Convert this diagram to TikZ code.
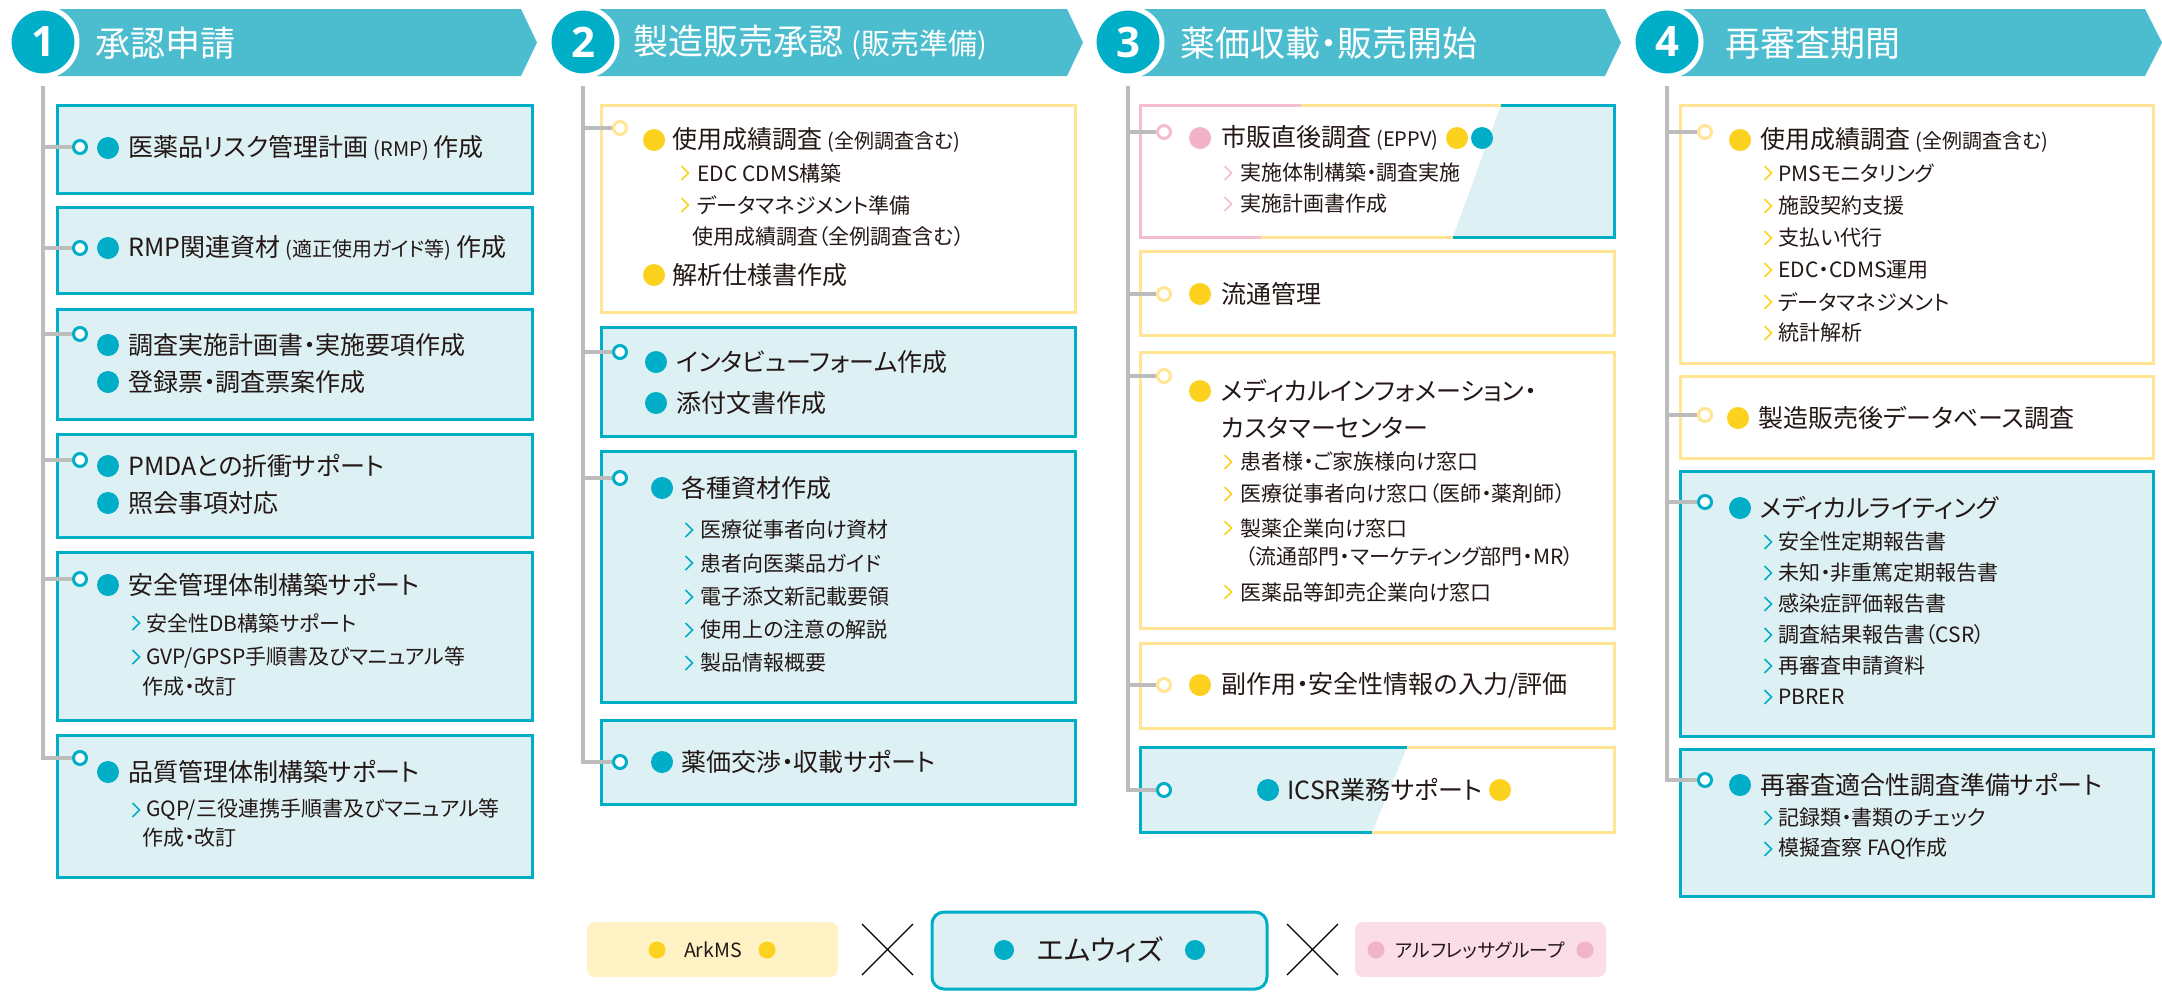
\documentclass[tikz,border=0pt]{standalone}
\usepackage{fontspec}
\setmainfont{Noto Sans CJK JP}[RawFeature=+palt]
\newfontfamily\numfont{Open Sans}
\usetikzlibrary{positioning}

\definecolor{tealdark}{HTML}{00AEC7}
\definecolor{bannerteal}{HTML}{4BBDCF}
\definecolor{tealfill}{HTML}{DDF0F4}
\definecolor{yelline}{HTML}{FFE594}
\definecolor{yeldot}{HTML}{FDD21E}
\definecolor{yelfill}{HTML}{FFF3C6}
\definecolor{pinkline}{HTML}{F5BDCF}
\definecolor{pinkdot}{HTML}{F2B3C7}
\definecolor{pinkfill}{HTML}{FADDE7}
\definecolor{trunkgray}{HTML}{BCBCBC}
\definecolor{inktext}{HTML}{231815}

\newcommand\smallpart[1]{{\fontsize{10}{12}\selectfont\hspace{2.5pt}#1\hspace{2.5pt}}}

\tikzset{
  banner/.style={fill=bannerteal},
  numcirc/.style={circle, fill=tealdark, draw=white, line width=2.5pt, minimum size=34pt, inner sep=0,
    text=white, font=\numfont\bfseries\fontsize{21}{21}\selectfont},
  headtext/.style={anchor=west, inner sep=0, text=white, font=\fontsize{17.5}{20}\selectfont},
  tealbox/.style={draw=tealdark, line width=1.5pt, fill=tealfill},
  yelbox/.style={draw=yelline, line width=1.5pt, fill=white},
  trunk/.style={draw=trunkgray, line width=2.2pt},
  hook/.style={circle, draw=#1, fill=white, line width=1.5pt, minimum size=6.5pt, inner sep=0},
  hook/.default=tealdark,
  dot/.style={circle, fill=#1, minimum size=11pt, inner sep=0},
  dot/.default=tealdark,
  ldot/.style={circle, fill=#1, minimum size=8.5pt, inner sep=0},
  item/.style={anchor=west, inner sep=0, text=inktext, font=\fontsize{12.5}{15}\selectfont},
  subitem/.style={anchor=west, inner sep=0, text=inktext, font=\fontsize{10.5}{13}\selectfont},
  legendtext/.style={inner sep=0, text=inktext, font=\fontsize{9.8}{12}\selectfont},
  pics/chev/.style={code={\draw[#1, line width=0.8pt] (-3.5,-7) -- (3.5,0) -- (-3.5,7);}},
}

\begin{document}
\begin{tikzpicture}[x=0.5pt, y=-0.5pt]
    \useasboundingbox (0,0) rectangle (2162,992);
    \fill[white] (0,0) rectangle (2162,992);

    % ---------- 1 承認申請
    \fill[banner] (43,9) -- (521,9) -- (537,42.5) -- (521,76) -- (43,76) -- cycle;
    \node[numcirc] (n1) at (43,42) {1};
    \node[headtext] (h1) at (95,43) {承認申請};

    \draw[tealbox] (57,105) rectangle (532,193);
    \draw[tealbox] (57,207) rectangle (532,293);
    \draw[tealbox] (57,309) rectangle (532,419);
    \draw[tealbox] (57,434) rectangle (532,537);
    \draw[tealbox] (57,552) rectangle (532,720);
    \draw[tealbox] (57,735) rectangle (532,877);

    \node[hook] (k11) at (80,147) {};
    \node[hook] (k12) at (80,248) {};
    \node[hook] (k13) at (80,334) {};
    \node[hook] (k14) at (80,460) {};
    \node[hook] (k15) at (80,579) {};
    \node[hook] (k16) at (80,758) {};
    \draw[trunk] ([yshift=-3.5pt]n1.south) |- (k16);
    \foreach \k in {k11,k12,k13,k14,k15}
        \draw[trunk] (\k -| n1) -- (\k);

    \node[dot] (d11) at (108,148) {};
    \node[item] (t11) at (128,148) {医薬品リスク管理計画\smallpart{(RMP)}作成};
    \node[dot] (d12) at (108,248) {};
    \node[item] (t12) at (128,248) {RMP関連資材\smallpart{(適正使用ガイド等)}作成};
    \node[dot] (d13a) at (108,345) {};
    \node[item] (t13a) at (128,345) {調査実施計画書・実施要項作成};
    \node[dot] (d13b) at (108,382) {};
    \node[item] (t13b) at (128,382) {登録票・調査票案作成};
    \node[dot] (d14a) at (108,466) {};
    \node[item] (t14a) at (128,466) {PMDAとの折衝サポート};
    \node[dot] (d14b) at (108,503) {};
    \node[item] (t14b) at (128,503) {照会事項対応};
    \node[dot] (d15) at (108,585) {};
    \node[item] (t15) at (128,585) {安全管理体制構築サポート};
    \pic at (136,623) {chev=tealdark};
    \node[subitem] (s15a) at (146,623) {安全性DB構築サポート};
    \pic at (136,657) {chev=tealdark};
    \node[subitem] (s15b) at (146,657) {GVP/GPSP手順書及びマニュアル等};
    \node[subitem] (s15c) at (142,687) {作成・改訂};
    \node[dot] (d16) at (108,772) {};
    \node[item] (t16) at (128,772) {品質管理体制構築サポート};
    \pic at (136,810) {chev=tealdark};
    \node[subitem] (s16a) at (146,810) {GQP/三役連携手順書及びマニュアル等};
    \node[subitem] (s16b) at (142,838) {作成・改訂};

    % ---------- 2 製造販売承認
    \fill[banner] (583,9) -- (1067,9) -- (1083,42.5) -- (1067,76) -- (583,76) -- cycle;
    \node[numcirc] (n2) at (583,42) {2};
    \node[headtext] (h2) at (633,43) {製造販売承認{\fontsize{14.5}{16}\selectfont\hspace{4pt}(販売準備)}};

    \draw[yelbox] (601,105) rectangle (1075,312);
    \draw[tealbox] (601,327) rectangle (1075,436);
    \draw[tealbox] (601,451) rectangle (1075,702);
    \draw[tealbox] (601,720) rectangle (1075,804);

    \node[hook=yelline] (k21) at (620,128) {};
    \node[hook] (k22) at (620,352) {};
    \node[hook] (k23) at (620,478) {};
    \node[hook] (k24) at (620,762) {};
    \draw[trunk] ([yshift=-3.5pt]n2.south) |- (k24);
    \foreach \k in {k21,k22,k23}
        \draw[trunk] (\k -| n2) -- (\k);

    \node[dot=yeldot] (d21a) at (654,140) {};
    \node[item] (t21a) at (672,140) {使用成績調査\smallpart{(全例調査含む)}};
    \pic at (685,173) {chev=yeldot};
    \node[subitem] (s21a) at (697,173) {EDC CDMS構築};
    \pic at (685,205) {chev=yeldot};
    \node[subitem] (s21b) at (697,205) {データマネジメント準備};
    \node[subitem] (s21c) at (692,237) {使用成績調査（全例調査含む）};
    \node[dot=yeldot] (d21b) at (654,275) {};
    \node[item] (t21b) at (672,275) {解析仕様書作成};
    \node[dot] (d22a) at (656,362) {};
    \node[item] (t22a) at (676,362) {インタビューフォーム作成};
    \node[dot] (d22b) at (656,403) {};
    \node[item] (t22b) at (676,403) {添付文書作成};
    \node[dot] (d23) at (662,488) {};
    \node[item] (t23) at (681,488) {各種資材作成};
    \pic at (689,530) {chev=tealdark};
    \node[subitem] (s23a) at (700,530) {医療従事者向け資材};
    \pic at (689,563) {chev=tealdark};
    \node[subitem] (s23b) at (700,563) {患者向医薬品ガイド};
    \pic at (689,597) {chev=tealdark};
    \node[subitem] (s23c) at (700,597) {電子添文新記載要領};
    \pic at (689,630) {chev=tealdark};
    \node[subitem] (s23d) at (700,630) {使用上の注意の解説};
    \pic at (689,663) {chev=tealdark};
    \node[subitem] (s23e) at (700,663) {製品情報概要};
    \node[dot] (d24) at (662,762) {};
    \node[item] (t24) at (681,762) {薬価交渉・収載サポート};

    % ---------- 3 薬価収載・販売開始
    \fill[banner] (1128,9) -- (1605,9) -- (1621,42.5) -- (1605,76) -- (1128,76) -- cycle;
    \node[numcirc] (n3) at (1128,42) {3};
    \node[headtext] (h3) at (1180,43) {薬価収載・販売開始};

    % EPPV box, three partners
    \fill[white] (1140,105) rectangle (1614,237);
    \fill[tealfill] (1501,105) -- (1614,105) -- (1614,237) -- (1453,237) -- cycle;
    \draw[pinkline, line width=1.5pt] (1301,105) -- (1140,105) -- (1140,237) -- (1261,237);
    \draw[yelline, line width=1.5pt] (1301,105) -- (1501,105) (1261,237) -- (1453,237);
    \draw[tealdark, line width=1.5pt] (1501,105) -- (1614,105) -- (1614,237) -- (1453,237);
    \draw[yelbox] (1140,251) rectangle (1614,335);
    \draw[yelbox] (1140,352) rectangle (1614,628);
    \draw[yelbox] (1140,643) rectangle (1614,728);
    % ICSR box
    \fill[white] (1140,747) rectangle (1614,832);
    \fill[tealfill] (1140,747) -- (1407,747) -- (1372,832) -- (1140,832) -- cycle;
    \draw[tealdark, line width=1.5pt] (1407,747) -- (1140,747) -- (1140,832) -- (1372,832);
    \draw[yelline, line width=1.5pt] (1407,747) -- (1614,747) -- (1614,832) -- (1372,832);

    \node[hook=pinkline] (k31) at (1164,132) {};
    \node[hook=yelline] (k32) at (1164,294) {};
    \node[hook=yelline] (k33) at (1164,376) {};
    \node[hook=yelline] (k34) at (1164,685) {};
    \node[hook] (k35) at (1164,790) {};
    \draw[trunk] ([yshift=-3.5pt]n3.south) |- (k35);
    \foreach \k in {k31,k32,k33,k34}
        \draw[trunk] (\k -| n3) -- (\k);

    \node[dot=pinkdot] (d31) at (1200,138) {};
    \node[item] (t31) at (1221,138) {市販直後調査\smallpart{(EPPV)}};
    \node[dot=yeldot] (d31b) at (1457,138) {};
    \node[dot] (d31c) at (1482,138) {};
    \pic at (1228,173) {chev=pinkline};
    \node[subitem] (s31a) at (1240,173) {実施体制構築・調査実施};
    \pic at (1228,204) {chev=pinkline};
    \node[subitem] (s31b) at (1240,204) {実施計画書作成};
    \node[dot=yeldot] (d32) at (1200,294) {};
    \node[item] (t32) at (1221,294) {流通管理};
    \node[dot=yeldot] (d33) at (1200,391) {};
    \node[item] (t33a) at (1221,391) {メディカルインフォメーション・};
    \node[item] (t33b) at (1221,428) {カスタマーセンター};
    \pic at (1228,462) {chev=yeldot};
    \node[subitem] (s33a) at (1240,462) {患者様・ご家族様向け窓口};
    \pic at (1228,494) {chev=yeldot};
    \node[subitem] (s33b) at (1240,494) {医療従事者向け窓口（医師・薬剤師）};
    \pic at (1228,528) {chev=yeldot};
    \node[subitem] (s33c) at (1240,528) {製薬企業向け窓口};
    \node[subitem] (s33d) at (1245,557) {（流通部門・マーケティング部門・MR）};
    \pic at (1228,592) {chev=yeldot};
    \node[subitem] (s33e) at (1240,592) {医薬品等卸売企業向け窓口};
    \node[dot=yeldot] (d34) at (1200,685) {};
    \node[item] (t34) at (1221,685) {副作用・安全性情報の入力/評価};
    \node[dot] (d35a) at (1268,790) {};
    \node[item] (t35) at (1287,790) {ICSR業務サポート};
    \node[dot=yeldot] (d35b) at (1500,790) {};

    % ---------- 4 再審査期間
    \fill[banner] (1667,9) -- (2145,9) -- (2162,42.5) -- (2145,76) -- (1667,76) -- cycle;
    \node[numcirc] (n4) at (1667,42) {4};
    \node[headtext] (h4) at (1725,43) {再審査期間};

    \draw[yelbox] (1680,105) rectangle (2153,363);
    \draw[yelbox] (1680,376) rectangle (2153,458);
    \draw[tealbox] (1680,471) rectangle (2153,736);
    \draw[tealbox] (1680,749) rectangle (2153,896);

    \node[hook=yelline] (k41) at (1705,132) {};
    \node[hook=yelline] (k42) at (1705,415) {};
    \node[hook] (k43) at (1705,502) {};
    \node[hook] (k44) at (1705,780) {};
    \draw[trunk] ([yshift=-3.5pt]n4.south) |- (k44);
    \foreach \k in {k41,k42,k43}
        \draw[trunk] (\k -| n4) -- (\k);

    \node[dot=yeldot] (d41) at (1740,140) {};
    \node[item] (t41) at (1760,140) {使用成績調査\smallpart{(全例調査含む)}};
    \foreach \y/\nm/\txt in {173/a/PMSモニタリング, 206/b/施設契約支援, 238/c/支払い代行,
                             270/d/EDC・CDMS運用, 302/e/データマネジメント, 333/f/統計解析}{
        \pic at (1768,\y) {chev=yeldot};
        \node[subitem] (s41\nm) at (1778,\y) {\txt};
    }
    \node[dot=yeldot] (d42) at (1738,418) {};
    \node[item] (t42) at (1758,418) {製造販売後データベース調査};
    \node[dot] (d43) at (1740,508) {};
    \node[item] (t43) at (1760,508) {メディカルライティング};
    \foreach \y/\nm/\txt in {542/a/安全性定期報告書, 573/b/未知・非重篤定期報告書, 604/c/感染症評価報告書,
                             635/d/調査結果報告書（CSR）, 666/e/再審査申請資料, 697/f/PBRER}{
        \pic at (1768,\y) {chev=tealdark};
        \node[subitem] (s43\nm) at (1778,\y) {\txt};
    }
    \node[dot] (d44) at (1740,785) {};
    \node[item] (t44) at (1760,785) {再審査適合性調査準備サポート};
    \pic at (1768,818) {chev=tealdark};
    \node[subitem] (s44a) at (1778,818) {記録類・書類のチェック};
    \pic at (1768,849) {chev=tealdark};
    \node[subitem] (s44b) at (1778,849) {模擬査察 FAQ作成};

    % ---------- partners
    \fill[yelfill, rounded corners=4pt] (587,922) rectangle (838,977);
    \node[ldot=yeldot] (l1a) at (657,950) {};
    \node[legendtext] (l1) at (713,950) {ArkMS};
    \node[ldot=yeldot] (l1b) at (767,950) {};
    \draw[black, line width=0.6pt] (862,924) -- (913,975) (862,975) -- (913,924);

    \draw[tealdark, fill=tealfill, line width=1.5pt, rounded corners=6pt] (932,912) rectangle (1267,989);
    \node[dot, minimum size=10pt] (l2a) at (1004,950) {};
    \node[legendtext, font=\fontsize{14}{16}\selectfont] (l2) at (1100,950) {エムウィズ};
    \node[dot, minimum size=10pt] (l2b) at (1195,950) {};
    \draw[black, line width=0.6pt] (1287,924) -- (1338,975) (1287,975) -- (1338,924);

    \fill[pinkfill, rounded corners=4pt] (1355,922) rectangle (1606,977);
    \node[ldot=pinkdot] (l3a) at (1376,950) {};
    \node[legendtext, font=\fontsize{9.4}{11}\selectfont] (l3) at (1480,950) {アルフレッサグループ};
    \node[ldot=pinkdot] (l3b) at (1585,950) {};
\end{tikzpicture}
\end{document}
